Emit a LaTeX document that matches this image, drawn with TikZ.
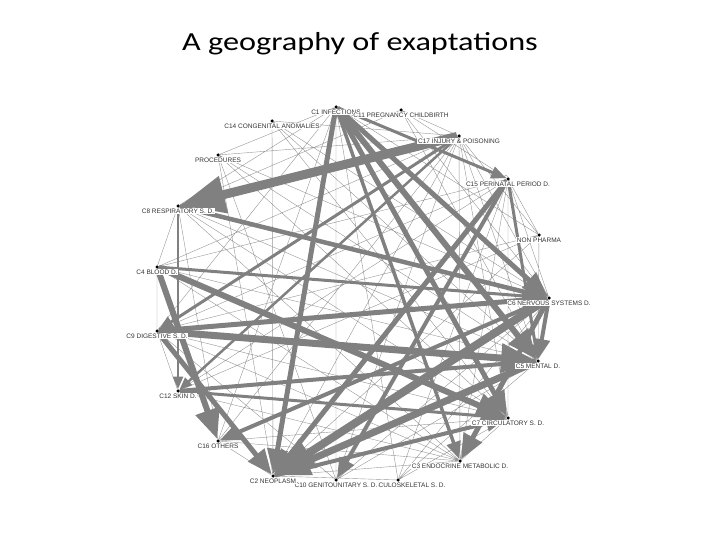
\documentclass[tikz,border=0pt]{standalone}
\usepackage{fontspec}
\setmainfont{Liberation Sans}
\newfontfamily\titlefont{Carlito}
\usetikzlibrary{arrows.meta,backgrounds}
\definecolor{edgegray}{RGB}{128,128,128}
\definecolor{thingray}{RGB}{150,150,150}
\tikzstyle{dot} = [circle, fill=black, inner sep=0pt, minimum size=3.5pt, label distance=2.5pt]
\tikzstyle{lbl} = [font=\fontsize{6.5}{7}\selectfont, text=black!80, fill=white, inner sep=0.6pt]
\tikzstyle{thinedge} = [draw=thingray, line width=0.4pt]
\tikzstyle{flow} = [draw=edgegray, -{Triangle[length=0pt 5, width=0pt 4]}]

\begin{document}
\begin{tikzpicture}[x=1pt, y=-1pt]
    \useasboundingbox (0,0) rectangle (720,540);
    \node (title) [xscale=1.24] at (360,44) {\titlefont\fontsize{26}{30}\selectfont A geography of exaptations};

    % Nodes on the circle
    \node (c1) [dot, label={[lbl]below:C1 INFECTIONS}] at (336,107) {};
    \node (c11) [dot, label={[lbl]below:C11 PREGNANCY CHILDBIRTH}] at (401,110) {};
    \node (c14) [dot, label={[lbl]below:C14 CONGENITAL ANOMALIES}] at (272,121) {};
    \node (proc) [dot, label={[lbl]below:PROCEDURES}] at (218,155) {};
    \node (c17) [dot, label={[lbl]below:C17 INJURY \& POISONING}] at (459,136) {};
    \node (c15) [dot, label={[lbl]below:C15 PERINATAL PERIOD D.}] at (508,179) {};
    \node (c8) [dot, label={[lbl]below:C8 RESPIRATORY S. D.}] at (178,206) {};
    \node (nonph) [dot, label={[lbl]below:NON PHARMA}] at (539,235) {};
    \node (c4) [dot, label={[lbl]below:C4 BLOOD D.}] at (157,267) {};
    \node (c6) [dot, label={[lbl]below:C6 NERVOUS SYSTEMS D.}] at (549,298) {};
    \node (c9) [dot, label={[lbl]below:C9 DIGESTIVE S. D.}] at (157,331) {};
    \node (c5) [dot, label={[lbl]below:C5 MENTAL D.}] at (538,361) {};
    \node (c12) [dot, label={[lbl]below:C12 SKIN D.}] at (178,391) {};
    \node (c7) [dot, label={[lbl]below:C7 CIRCULATORY S. D.}] at (508,418) {};
    \node (c16) [dot, label={[lbl]below:C16 OTHERS}] at (218,441) {};
    \node (c3) [dot, label={[lbl]below:C3 ENDOCRINE METABOLIC D.}] at (460,461) {};
    \node (c13) [dot, label={[lbl]below:C13 MUSCULOSKELETAL S. D.}] at (398,480) {};
    \node (c10) [dot, label={[lbl]below:C10 GENITOUNITARY S. D.}] at (336,480) {};
    \node (c2) [dot, label={[lbl]below:C2 NEOPLASM}] at (273,476) {};

    \begin{scope}[on background layer]
    % Thin links
    \draw [thinedge] (c1) -- (proc) (c1) -- (c8) (c1) -- (c9)
        (c1) -- (c16) (c1) -- (c10) (c1) -- (c13) (c1) -- (nonph)
        (c11) -- (c8) (c11) -- (c5) (c11) -- (c6) (c11) -- (c15) (c11) -- (c17)
        (c14) -- (c6) (c14) -- (c5) (c14) -- (c2) (c14) -- (c7) (c14) -- (c17)
        (proc) -- (c6) (proc) -- (c5) (proc) -- (c7) (proc) -- (c2) (proc) -- (c10) (proc) -- (c17)
        (c17) -- (c4) (c17) -- (c16) (c17) -- (c2) (c17) -- (c10) (c17) -- (c3)
        (c17) -- (c7) (c17) -- (c5) (c17) -- (c6) (c17) -- (nonph)
        (c15) -- (c4) (c15) -- (c9) (c15) -- (c12) (c15) -- (c13) (c15) -- (c3)
        (c15) -- (c7) (c15) -- (nonph) (c15) -- (c6)
        (c8) -- (c5) (c8) -- (c7) (c8) -- (c3) (c8) -- (c16) (c8) -- (c4)
        (nonph) -- (c9) (nonph) -- (c2) (nonph) -- (c5) (nonph) -- (c12)
        (c4) -- (c5) (c4) -- (c3) (c4) -- (c9)
        (c9) -- (c7) (c9) -- (c3) (c9) -- (c10) (c9) -- (c12)
        (c6) -- (c13) (c6) -- (c10) (c5) -- (c10) (c5) -- (c13)
        (c12) -- (c3) (c16) -- (c7) (c16) -- (c3) (c16) -- (c2)
        (c2) -- (c3) (c2) -- (c13) (c7) -- (c13) (c7) -- (c3);
    \draw [thinedge] (c15) to[out=160, in=100, looseness=6] (c15);

    % Weighted links
    \draw [flow, line width=9pt] (c17) -- (c8);
    \draw [flow, line width=5pt] (c1) -- (c2);
    \draw [flow, line width=5pt] (c1) -- (c6);
    \draw [flow, line width=6pt] (c1) -- (c5);
    \draw [flow, line width=5pt] (c1) -- (c7);
    \draw [flow, line width=3.5pt] (c1) -- (c3);
    \draw [flow, line width=3pt] (c1) -- (c15);
    \draw [flow, line width=4.5pt] (c8) -- (c6);
    \draw [flow, line width=2.5pt] (c8) -- (c12);
    \draw [flow, line width=3pt] (c4) -- (c6);
    \draw [flow, line width=6pt] (c4) -- (c7);
    \draw [flow, line width=6pt] (c4) -- (c16);
    \draw [flow, line width=5pt] (c9) -- (c6);
    \draw [flow, line width=7pt] (c9) -- (c5);
    \draw [flow, line width=5pt] (c9) -- (c2);
    \draw [flow, line width=4pt] (c12) -- (c5);
    \draw [flow, line width=3pt] (c12) -- (c7);
    \draw [flow, line width=3pt] (c17) -- (c9);
    \draw [flow, line width=2.5pt] (c17) -- (c12);
    \draw [flow, line width=5pt] (c15) -- (c2);
    \draw [flow, line width=4pt] (c15) -- (c10);
    \draw [flow, line width=3pt] (c15) -- (c5);
    \draw [flow, line width=8pt] (c6) -- (c2);
    \draw [flow, line width=7pt] (c5) -- (c2);
    \draw [flow, line width=5pt] (c6) -- (c3);
    \draw [flow, line width=4pt] (c6) -- (c5);
    \draw [flow, line width=4pt] (c6) -- (c16);
    \draw [flow, line width=4pt] (c2) -- (c7);
    \end{scope}
\end{tikzpicture}
\end{document}
